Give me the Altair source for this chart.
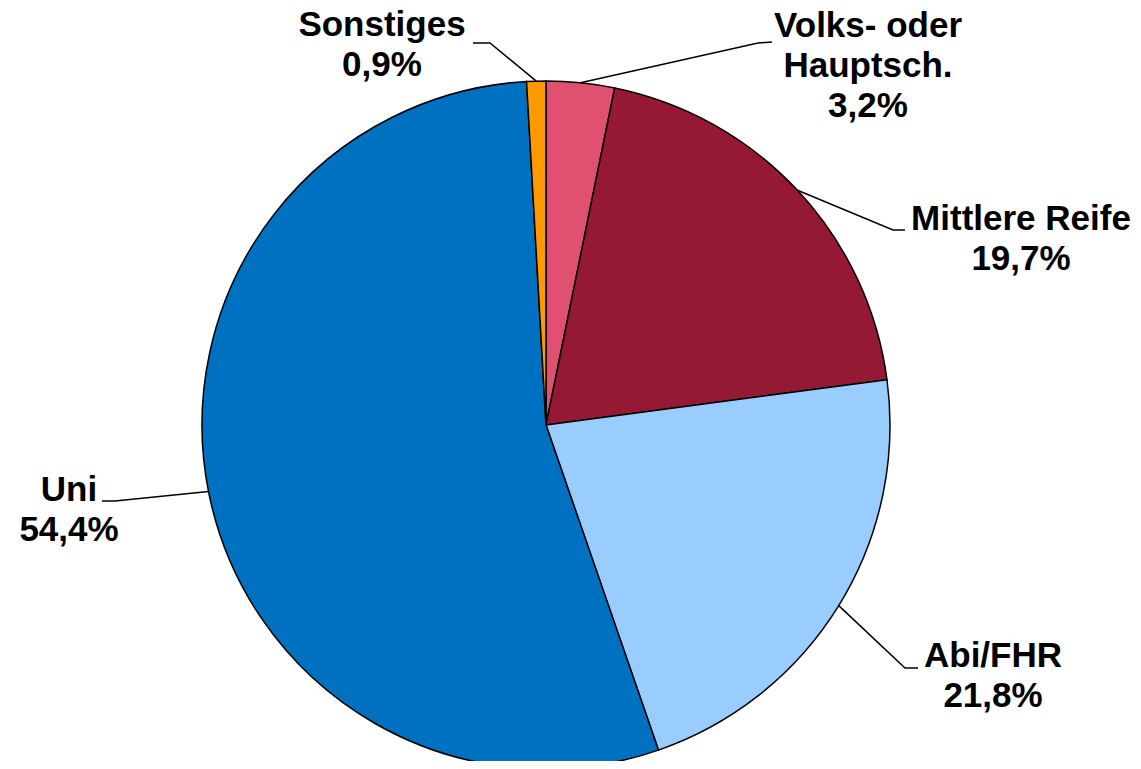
import math
import altair as alt
import pandas as pd

# ---- data ----
categories = ["Volks- oder Hauptsch.", "Mittlere Reife", "Abi/FHR", "Uni", "Sonstiges"]
values = [3.2, 19.7, 21.8, 54.4, 0.9]
label_names = ["Volks- oder\nHauptsch.", "Mittlere Reife", "Abi/FHR", "Uni", "Sonstiges"]
colors = ["#E0506F", "#951835", "#99CCFF", "#0070C0", "#FF9900"]

# ---- layout (pixel offsets from pie centre, y downward) ----
W, H = 1125, 753
CX, CY = 538, 417          # pie centre inside the chart
R = 344
label_pos = [(322, -388), (475, -195), (447, 242), (-477, 76), (-164, -389)]
elbow_pos = [(212, -382), (347, -195), (359, 243), (-431, 76), (-56, -382)]
end_pos = [(226, -383), (359, -195), (372, 243), (-444, 76), (-73, -382)]

total = sum(values)
pie_df = pd.DataFrame({"cat": categories, "value": values, "idx": range(len(values))})

lab_rows = []
line_rows = []
cum = 0.0
for i, (c, v) in enumerate(zip(categories, values)):
    mid = (cum + v / 2) / total * 2 * math.pi
    cum += v
    sx, sy = R * math.sin(mid), -R * math.cos(mid)
    pct = f"{v:.1f}".replace(".", ",") + "%"
    lab_rows.append({"cat": c, "text": label_names[i] + "\n" + pct,
                     "x": label_pos[i][0], "y": label_pos[i][1]})
    for s, (px, py) in enumerate([(sx, sy), elbow_pos[i], end_pos[i]]):
        line_rows.append({"cat": c, "seq": s, "x": px, "y": py})

lab_df = pd.DataFrame(lab_rows)
line_df = pd.DataFrame(line_rows)

xs = alt.Scale(domain=[-CX, W - CX], nice=False, zero=False)
ys = alt.Scale(domain=[-CY, H - CY], nice=False, zero=False, reverse=True)

pie = alt.Chart(pie_df).mark_arc(outerRadius=R, stroke="black", strokeWidth=1.5).encode(
    theta=alt.Theta("value:Q", stack=True),
    order=alt.Order("idx:Q"),
    color=alt.Color("cat:N", scale=alt.Scale(domain=categories, range=colors), legend=None),
    x=alt.datum(0, type="quantitative", scale=xs, axis=None),
    y=alt.datum(0, type="quantitative", scale=ys, axis=None),
)

leaders = alt.Chart(line_df).mark_line(color="black", strokeWidth=1.5).encode(
    x=alt.X("x:Q", scale=xs, axis=None),
    y=alt.Y("y:Q", scale=ys, axis=None),
    detail="cat:N",
    order="seq:Q",
)

labels = alt.Chart(lab_df).mark_text(
    font="Liberation Sans", fontWeight="bold", fontSize=35, lineHeight=40,
    lineBreak="\n", align="center", baseline="alphabetic", color="black",
).encode(
    x=alt.X("x:Q", scale=xs, axis=None),
    y=alt.Y("y:Q", scale=ys, axis=None),
    text="text:N",
)

chart = alt.layer(pie, leaders, labels).properties(
    width=W, height=H, padding=0, background="white",
    autosize=alt.AutoSizeParams(type="none"),
).configure_view(stroke=None)

chart.save("out.html", embed_options={"renderer": "svg", "actions": False})
